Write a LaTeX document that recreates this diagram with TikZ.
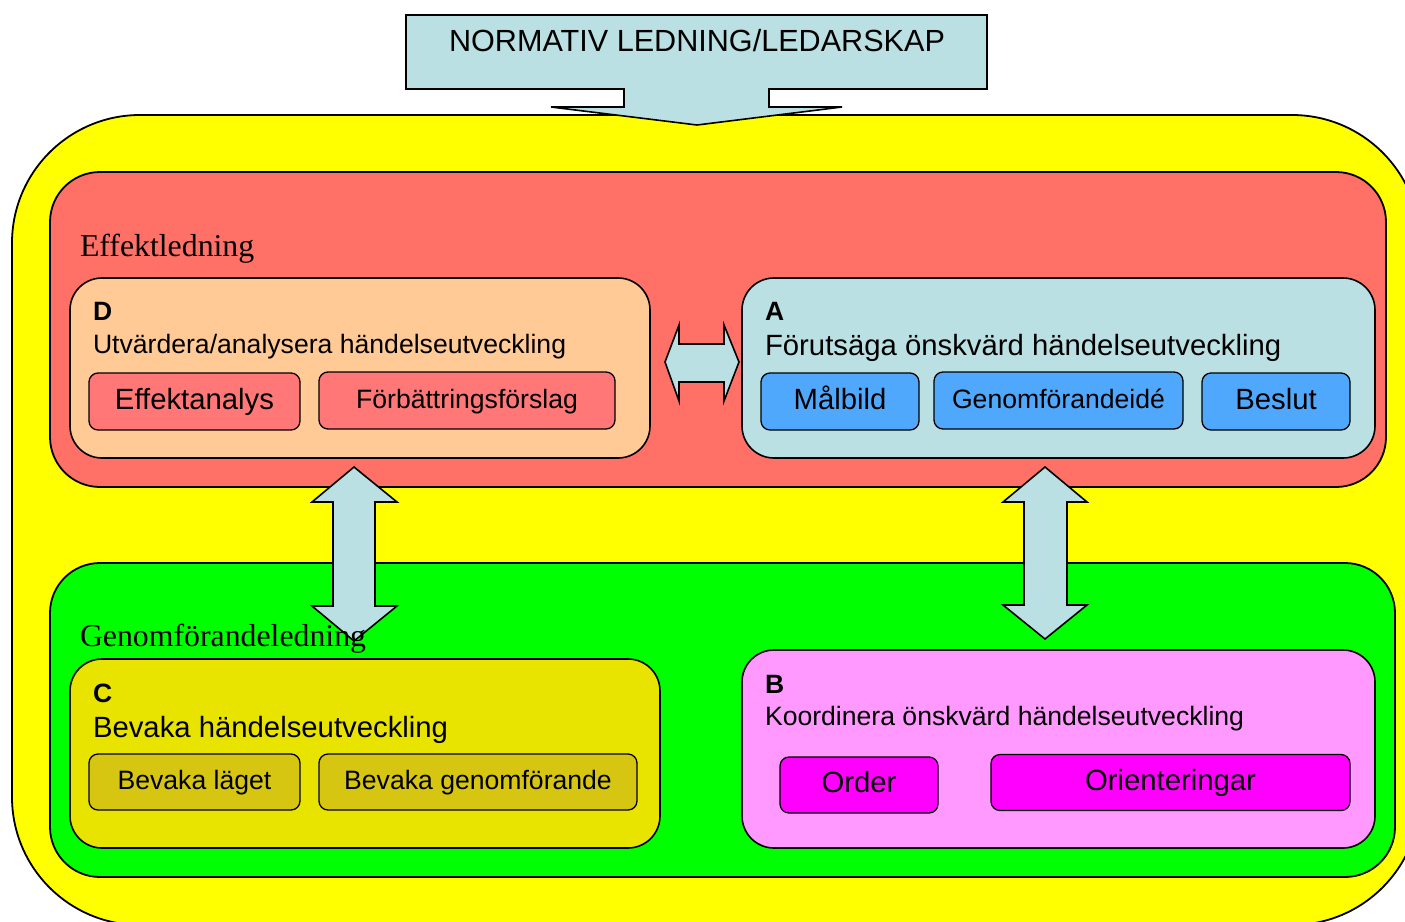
\documentclass[tikz,border=0pt]{standalone}
\usepackage{fontspec}
\setmainfont{Liberation Serif}
\setsansfont{Liberation Sans}
\newfontfamily\arialish{Liberation Sans}
\begin{document}
\begin{tikzpicture}[x=1pt,y=-1pt,
  every node/.style={inner sep=0pt,outer sep=0pt},
  panel/.style={draw=black,line width=1.8pt,rounded corners=#1},
  sub/.style={draw=black,line width=1.6pt,rounded corners=32},
  item/.style={draw=black,line width=1.3pt,rounded corners=9,minimum height=57,
    text height=21pt,text depth=6pt},
  small/.style={font=\arialish\fontsize{26.6}{30}\selectfont},
  big/.style={font=\arialish\fontsize{29.3}{33}\selectfont},
  tag/.style={font=\arialish\bfseries\fontsize{26.5}{30}\selectfont,anchor=base west},
  level/.style={font=\fontsize{31.8}{36}\selectfont,anchor=base west},
  blockarrow/.style={draw=black,line width=1.6pt,fill=lblue,line join=miter}]
\definecolor{yel}{HTML}{FFFF00}
\definecolor{redbg}{HTML}{FF7066}
\definecolor{grn}{HTML}{00FF00}
\definecolor{peach}{HTML}{FFCA96}
\definecolor{lblue}{HTML}{BBE0E3}
\definecolor{olive}{HTML}{E8E400}
\definecolor{pink}{HTML}{FF99FF}
\definecolor{salmon}{HTML}{FF7777}
\definecolor{sky}{HTML}{4FA8FC}
\definecolor{khaki}{HTML}{D6C612}
\definecolor{mag}{HTML}{FF00FF}
\useasboundingbox (0,0) rectangle (1405,921);

% outer frame and the two levels
\node[panel=128,fill=yel,minimum width=1408,minimum height=810] (outer) at (716,520) {};
\node[panel=50,fill=redbg,minimum width=1336,minimum height=315] (effekt) at (718,329.5) {};
\node[panel=50,fill=grn,minimum width=1345,minimum height=314] (genom) at (722.5,720) {};

% process steps
\node[sub,fill=peach,minimum width=580,minimum height=180] (D) at (360,368) {};
\node[sub,fill=lblue,minimum width=633,minimum height=180] (A) at (1058.5,368) {};
\node[sub,fill=olive,minimum width=590,minimum height=189] (C) at (365,753.5) {};
\node[sub,fill=pink,minimum width=633,minimum height=198] (B) at (1058.5,749) {};

\node[tag] (Dtag) at (93,320) {D};
\node[small,anchor=base west] (Dtxt) at (93,353) {Utvärdera/analysera händelseutveckling};
\node[tag] (Atag) at (765,320) {A};
\node[big,anchor=base west] (Atxt) at (765,355) {Förutsäga önskvärd händelseutveckling};
\node[tag] (Ctag) at (93,702) {C};
\node[big,anchor=base west] (Ctxt) at (93,737) {Bevaka händelseutveckling};
\node[tag] (Btag) at (765,693) {B};
\node[small,anchor=base west] (Btxt) at (765,725) {Koordinera önskvärd händelseutveckling};

% activities
\node[item,big,fill=salmon,minimum width=211] (eff) at (194.5,401.5) {Effektanalys};
\node[item,small,fill=salmon,minimum width=296] (forb) at (467,400.5) {Förbättringsförslag};
\node[item,big,fill=sky,minimum width=158] (mal) at (840,401.5) {Målbild};
\node[item,small,fill=sky,minimum width=249] (gid) at (1058.5,400.5) {Genomförandeidé};
\node[item,big,fill=sky,minimum width=148] (bes) at (1276,401.5) {Beslut};
\node[item,small,fill=khaki,minimum width=211,minimum height=56] (bl) at (194.5,782) {Bevaka läget};
\node[item,small,fill=khaki,minimum width=318,minimum height=56] (bg) at (478,782) {Bevaka genomförande};
\node[item,big,fill=mag,minimum width=158,minimum height=56] (ord) at (859,785) {Order};
\node[item,big,fill=mag,minimum width=359,minimum height=56] (ori) at (1170.5,782.5) {Orienteringar};

% block arrows
\draw[blockarrow] (354,467) -- (397,502) -- (375,502) -- (375,606) -- (397,606) -- (354,641)
  -- (312,606) -- (333,606) -- (333,502) -- (312,502) -- cycle;
\draw[blockarrow] (1045,467) -- (1087,502) -- (1067,502) -- (1067,605) -- (1087,605) -- (1045,639)
  -- (1003,605) -- (1024,605) -- (1024,502) -- (1003,502) -- cycle;
\draw[blockarrow] (665,362) -- (679,325) -- (679,344) -- (724,344) -- (724,325) -- (739,362)
  -- (724,401) -- (724,382) -- (679,382) -- (679,401) -- cycle;

% normative leadership arrow
\draw[blockarrow] (406,15) -- (987,15) -- (987,89) -- (769,89) -- (769,107) -- (842,107)
  -- (697,125) -- (551,107) -- (624,107) -- (624,89) -- (406,89) -- cycle;
\node[font=\arialish\fontsize{30.6}{34}\selectfont,anchor=base] (norm) at (697,51) {NORMATIV LEDNING/LEDARSKAP};

% level labels
\node[level] (efflbl) at (80,256) {Effektledning};
\node[level] (genlbl) at (80,646) {Genomförandeledning};
\end{tikzpicture}
\end{document}
